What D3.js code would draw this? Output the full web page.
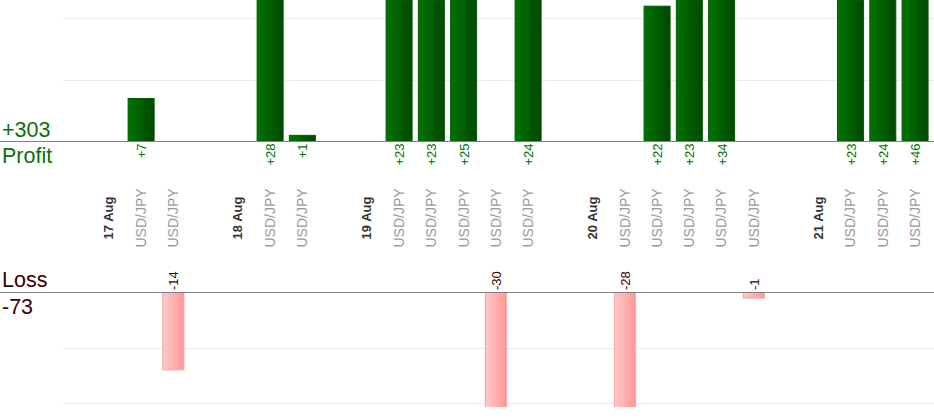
<!DOCTYPE html>
<html>
<head>
<meta charset="utf-8">
<script src="https://cdn.jsdelivr.net/npm/d3@7"></script>
<style>
  body { margin: 0; background: #fff; }
  svg { display: block; font-family: "Liberation Sans", Arial, sans-serif; }
</style>
</head>
<body>
<div id="chart"></div>
<script>

// slots along the x axis: spacer, date label, then one slot per trade
const slots = ["", "17 Aug", "USD/JPY", "USD/JPY",
               "", "18 Aug", "USD/JPY", "USD/JPY",
               "", "19 Aug", "USD/JPY", "USD/JPY", "USD/JPY", "USD/JPY", "USD/JPY",
               "", "20 Aug", "USD/JPY", "USD/JPY", "USD/JPY", "USD/JPY", "USD/JPY",
               "", "21 Aug", "USD/JPY", "USD/JPY", "USD/JPY"];
const slotType = ["gap", "date", "trade", "trade",
                  "gap", "date", "trade", "trade",
                  "gap", "date", "trade", "trade", "trade", "trade", "trade",
                  "gap", "date", "trade", "trade", "trade", "trade", "trade",
                  "gap", "date", "trade", "trade", "trade"];
// pips per trade (null = no trade in that slot)
const results = [null, null, 7, -14,
                 null, null, 28, 1,
                 null, null, 23, 23, 25, -30, 24,
                 null, null, -28, 22, 23, 34, -1,
                 null, null, 23, 24, 46];
const profitTicks = [10, 20];
const lossTicks = [10, 20];

const W = 934, H = 420;

const svg = d3.select("#chart")
  .append("svg")
    .attr("width", W)
    .attr("height", H);

const defs = svg.append("defs");
const gGreen = defs.append("linearGradient").attr("id", "gGreen");
gGreen.append("stop").attr("offset", "0%").attr("stop-color", "#007400");
gGreen.append("stop").attr("offset", "100%").attr("stop-color", "#004700");
const gRed = defs.append("linearGradient").attr("id", "gRed");
gRed.append("stop").attr("offset", "0%").attr("stop-color", "#ffcaca");
gRed.append("stop").attr("offset", "100%").attr("stop-color", "#ff9797");
defs.append("clipPath").attr("id", "lossClip")
  .append("rect").attr("x", 0).attr("y", 292).attr("width", W).attr("height", 115);

const idx = d3.range(slots.length);
const x = d3.scaleBand()
    .domain(idx)
    .range([60, 930.7]);

// profit panel (runs on above the window)
const yP = d3.scaleLinear().domain([0, 50]).range([141.5, 141.5 - 50 * 6.15]);
// loss panel
const yL = d3.scaleLinear().domain([0, 30]).range([292.5, 292.5 + 30 * 5.52]);

// gridlines
svg.append("g").selectAll("line")
  .data(profitTicks)
  .join("line")
    .attr("x1", 63).attr("x2", W)
    .attr("y1", d => Math.round(yP(d)) + 0.5)
    .attr("y2", d => Math.round(yP(d)) + 0.5)
    .attr("stroke", "#ebebeb");
svg.append("g").selectAll("line")
  .data(lossTicks)
  .join("line")
    .attr("x1", 63).attr("x2", W)
    .attr("y1", d => Math.round(yL(d)) + 0.5)
    .attr("y2", d => Math.round(yL(d)) + 0.5)
    .attr("stroke", "#ebebeb");

const profits = idx.filter(i => results[i] !== null && results[i] > 0);
const losses = idx.filter(i => results[i] !== null && results[i] < 0);

// profit bars
const pw = 26;
svg.append("g").selectAll("rect")
  .data(profits)
  .join("rect")
    .attr("x", i => x(i) + x.bandwidth() / 2 - pw / 2 + 0.5)
    .attr("y", i => yP(results[i]))
    .attr("width", pw)
    .attr("height", i => yP(0) - yP(results[i]))
    .attr("fill", "url(#gGreen)")
    .attr("stroke", "#005c00");

// loss bars
const lw = 21;
svg.append("g").attr("clip-path", "url(#lossClip)").selectAll("rect")
  .data(losses)
  .join("rect")
    .attr("x", i => x(i) + x.bandwidth() / 2 - lw / 2 + 0.5)
    .attr("y", yL(0))
    .attr("width", lw)
    .attr("height", i => yL(-results[i]) - yL(0))
    .attr("fill", "url(#gRed)")
    .attr("stroke", "#ff9c9c");

// zero lines
svg.append("line").attr("x1", 0).attr("x2", W).attr("y1", 141.5).attr("y2", 141.5)
  .attr("stroke", "#808080");
svg.append("line").attr("x1", 0).attr("x2", W).attr("y1", 292.5).attr("y2", 292.5)
  .attr("stroke", "#808080");

// profit value labels
svg.append("g").selectAll("text")
  .data(profits)
  .join("text")
    .attr("transform", i => `translate(${x(i) + x.bandwidth() / 2 + 1},143.5) rotate(-90)`)
    .attr("dy", "0.35em")
    .attr("text-anchor", "end")
    .attr("font-size", 13)
    .attr("fill", "#007000")
    .text(i => "+" + results[i]);

// loss value labels
svg.append("g").selectAll("text")
  .data(losses)
  .join("text")
    .attr("transform", i => `translate(${x(i) + x.bandwidth() / 2 + 1},290) rotate(-90)`)
    .attr("dy", "0.35em")
    .attr("text-anchor", "start")
    .attr("font-size", 13)
    .attr("fill", "#3a0000")
    .text(i => results[i]);

// slot labels (dates and instruments)
svg.append("g").selectAll("text")
  .data(idx.filter(i => slots[i] !== ""))
  .join("text")
    .attr("transform", i => `translate(${x(i) + x.bandwidth() / 2 + 0.5},218) rotate(-90)`)
    .attr("dy", "0.35em")
    .attr("text-anchor", "middle")
    .attr("font-size", i => slotType[i] === "date" ? 13 : 14)
    .attr("font-weight", i => slotType[i] === "date" ? "bold" : "normal")
    .attr("fill", i => slotType[i] === "date" ? "#333" : "#9a9a9a")
    .text(i => slots[i]);

// totals at left
const totalProfit = d3.sum(profits, i => results[i]);
const totalLoss = d3.sum(losses, i => results[i]);
const side = svg.append("g").attr("font-size", 21.5);
side.append("text").attr("x", 2).attr("y", 137).attr("fill", "#0b700b").text("+" + totalProfit);
side.append("text").attr("x", 2).attr("y", 163).attr("fill", "#0b700b").text("Profit");
side.append("text").attr("x", 2).attr("y", 287).attr("fill", "#3a0000").text("Loss");
side.append("text").attr("x", 2).attr("y", 314).attr("fill", "#3a0000").text(totalLoss);

</script>
</body>
</html>
